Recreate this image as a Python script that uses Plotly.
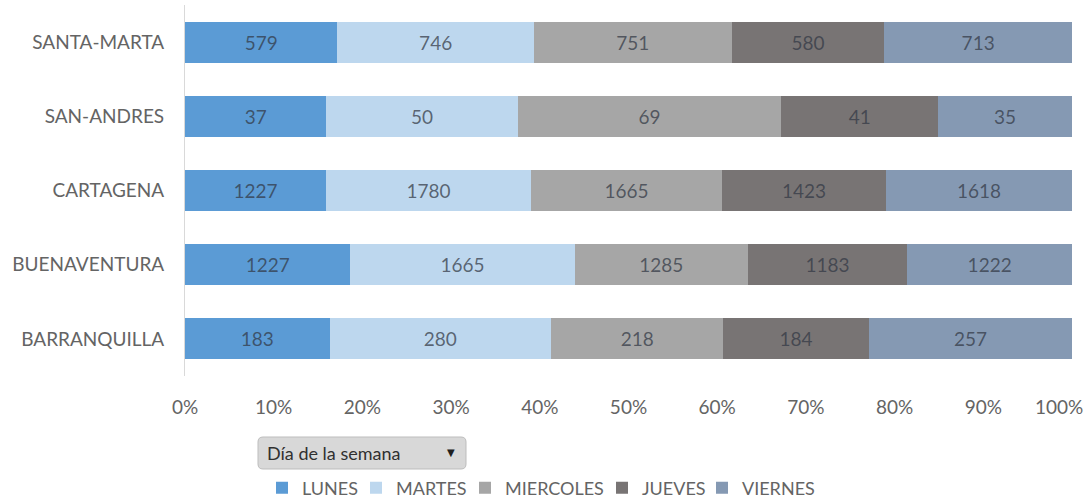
import plotly.graph_objects as go

# Ports, top to bottom as displayed
ports = ["SANTA-MARTA", "SAN-ANDRES", "CARTAGENA", "BUENAVENTURA", "BARRANQUILLA"]

# Counts per weekday, same order as ports
lunes = [579, 37, 1227, 1227, 183]
martes = [746, 50, 1780, 1665, 280]
miercoles = [751, 69, 1665, 1285, 218]
jueves = [580, 41, 1423, 1183, 184]
viernes = [713, 35, 1618, 1222, 257]

days = ["LUNES", "MARTES", "MIERCOLES", "JUEVES", "VIERNES"]
series = [lunes, martes, miercoles, jueves, viernes]
colors = ["#5B9BD5", "#BDD7EE", "#A6A6A6", "#787474", "#8599B3"]

x_ticks = [0, 10, 20, 30, 40, 50, 60, 70, 80, 90, 100]
x_tick_labels = [f"{t}%" for t in x_ticks]

FONT = "Lato, Open Sans, sans-serif"
TXT = "#646464"
W, H = 1087, 502
ML, MR, MT, MB = 185, 15, 5, 126
PW, PH = W - ML - MR, H - MT - MB

# left edge (px) of each legend entry's text
legend_text_x = [302, 396, 505, 642, 742]


def px_x(px):
    return (px - ML) / PW


def px_y(py):
    return (H - MB - py) / PH


fig = go.Figure()
legend_ids = ["legend"] + [f"legend{i}" for i in range(2, len(days) + 1)]
for name, vals, col, lid in zip(days, series, colors, legend_ids):
    fig.add_trace(go.Bar(
        y=ports, x=vals, name=name, orientation="h",
        marker=dict(color=col, line=dict(width=0)),
        text=[str(v) for v in vals], textposition="inside",
        insidetextanchor="middle",
        textfont=dict(family=FONT, size=19, color="rgba(50,56,68,0.72)"),
        hoverinfo="skip", legend=lid,
    ))

fig.update_layout(
    width=W, height=H,
    margin=dict(l=ML, r=MR, t=MT, b=MB),
    barmode="stack", barnorm="percent", bargap=0.447,
    paper_bgcolor="white", plot_bgcolor="white",
    font=dict(family=FONT, color=TXT),
    uniformtext=dict(mode="show", minsize=10),
    xaxis=dict(
        range=[0, 100], tickvals=x_ticks, ticktext=x_tick_labels,
        showgrid=False, zeroline=False, showline=False, ticks="",
        tickfont=dict(family=FONT, size=19, color=TXT),
        ticklabelstandoff=18, automargin=False, fixedrange=True,
    ),
    yaxis=dict(
        categoryorder="array", categoryarray=ports[::-1],
        showgrid=False, zeroline=False, showline=True,
        linecolor="#D9D9D9", linewidth=1, ticks="",
        tickfont=dict(family=FONT, size=19, color=TXT),
        ticklabelstandoff=16, automargin=False, fixedrange=True,
    ),
    showlegend=True,
)

# one single-entry legend per weekday, laid out in a row under the button
for lid, tx in zip(legend_ids, legend_text_x):
    fig.update_layout({lid: dict(
        orientation="h", xref="container", yref="container",
        x=(tx - 40) / W, xanchor="left",
        y=(H - 488) / H, yanchor="middle",
        font=dict(family=FONT, size=18, color=TXT),
        itemclick=False, itemdoubleclick=False,
        bgcolor="rgba(0,0,0,0)",
    )})

# Last tick label sits at the right edge of the page
fig.add_annotation(
    xref="paper", yref="paper", x=(W - 2 - ML) / PW, y=px_y(406),
    xanchor="right", yanchor="middle", showarrow=False,
    text=x_tick_labels[-1], font=dict(family=FONT, size=19, color=TXT),
)

# Field button below the chart (rounded rectangle)
bx0, bx1, by0, by1, r = 258, 466, 437, 469, 5
path = (
    f"M {px_x(bx0 + r)},{px_y(by0)} L {px_x(bx1 - r)},{px_y(by0)} "
    f"Q {px_x(bx1)},{px_y(by0)} {px_x(bx1)},{px_y(by0 + r)} "
    f"L {px_x(bx1)},{px_y(by1 - r)} "
    f"Q {px_x(bx1)},{px_y(by1)} {px_x(bx1 - r)},{px_y(by1)} "
    f"L {px_x(bx0 + r)},{px_y(by1)} "
    f"Q {px_x(bx0)},{px_y(by1)} {px_x(bx0)},{px_y(by1 - r)} "
    f"L {px_x(bx0)},{px_y(by0 + r)} "
    f"Q {px_x(bx0)},{px_y(by0)} {px_x(bx0 + r)},{px_y(by0)} Z"
)
fig.add_shape(
    type="path", xref="paper", yref="paper", path=path,
    fillcolor="#D8D8D8", line=dict(color="#BDBDBD", width=1), layer="above",
)
fig.add_annotation(
    xref="paper", yref="paper", x=px_x(265), y=px_y(453),
    xanchor="left", yanchor="middle", showarrow=False,
    text="Día de la semana",
    font=dict(family=FONT, size=18, color="#303030"),
)
fig.add_annotation(
    xref="paper", yref="paper", x=px_x(451), y=px_y(452),
    xanchor="center", yanchor="middle", showarrow=False,
    text="▼", font=dict(family="DejaVu Sans", size=10, color="#202020"),
)

fig.write_html("out.html", config={"displayModeBar": False})
